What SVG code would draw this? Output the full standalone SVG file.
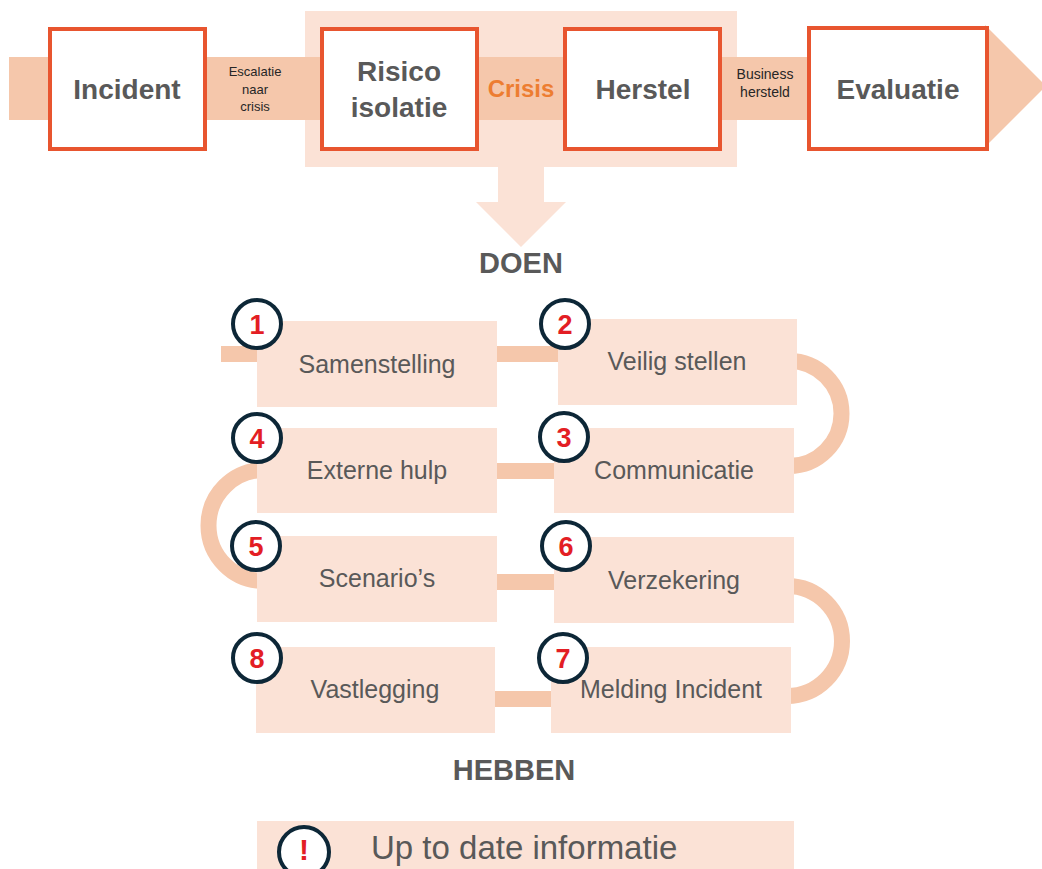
<svg xmlns="http://www.w3.org/2000/svg" width="1042" height="869" viewBox="0 0 1042 869">
<style>
.band{fill:#F5C7AB}
.light{fill:#FBE2D6}
.phase{fill:#FFFFFF;stroke:#E8552F;stroke-width:4}
.ptxt{font-family:"Liberation Sans",Arial,sans-serif;font-weight:bold;font-size:28px;fill:#595959;text-anchor:middle}
.small{font-family:"Liberation Sans",Arial,sans-serif;font-size:13px;fill:#262626;text-anchor:middle}
.small14{font-family:"Liberation Sans",Arial,sans-serif;font-size:14px;fill:#262626;text-anchor:middle}
.head{font-family:"Liberation Sans",Arial,sans-serif;font-weight:bold;font-size:29px;fill:#595959;text-anchor:middle}
.step{fill:#FBE2D6}
.stxt{font-family:"Liberation Sans",Arial,sans-serif;font-size:25px;fill:#595959;text-anchor:middle}
.info{font-family:"Liberation Sans",Arial,sans-serif;font-size:33px;fill:#595959;text-anchor:start}
.num{fill:#FFFFFF;stroke:#0D2737;stroke-width:4}
.ntxt{font-family:"Liberation Sans",Arial,sans-serif;font-weight:bold;font-size:27px;fill:#E31E24;text-anchor:middle}
.excl{font-family:"Liberation Sans",Arial,sans-serif;font-weight:bold;font-size:30px;fill:#E31E24;text-anchor:middle}
.conn{fill:none;stroke:#F5C7AB;stroke-width:16}
</style>
<rect width="1042" height="869" fill="#FFFFFF"/>
<g id="crisis-area">
<rect class="light" x="305" y="11" width="432" height="156"/>
<polygon class="light" points="498,166 544,166 544,202 566,202 521,247 476,202 498,202"/>
</g>
<g id="timeline">
<rect class="band" x="9" y="57" width="977" height="63"/>
<polygon class="band" points="985,25 1046,86 985,147"/>
</g>
<g id="incident">
<rect class="phase" x="50" y="29" width="155" height="120"/>
<text class="ptxt" x="127" y="99">Incident</text>
</g>
<g id="escalatie">
<text class="small" x="255" y="76">Escalatie</text>
<text class="small" x="255" y="94">naar</text>
<text class="small" x="255" y="111">crisis</text>
</g>
<g id="risico">
<rect class="phase" x="322" y="29" width="155" height="120"/>
<text class="ptxt" x="399" y="81">Risico</text>
<text class="ptxt" x="399" y="117">isolatie</text>
</g>
<g id="crisis">
<text x="521" y="97" font-family="Liberation Sans, Arial, sans-serif" font-weight="bold" font-size="24" fill="#ED7D31" text-anchor="middle">Crisis</text>
</g>
<g id="herstel">
<rect class="phase" x="565" y="29" width="155" height="120"/>
<text class="ptxt" x="643" y="99">Herstel</text>
</g>
<g id="business">
<text class="small14" x="765" y="79">Business</text>
<text class="small14" x="765" y="97">hersteld</text>
</g>
<g id="evaluatie">
<rect class="phase" x="809" y="28" width="178" height="121"/>
<text class="ptxt" x="898" y="99">Evaluatie</text>
</g>
<g id="doen">
<text class="head" x="521" y="273">DOEN</text>
</g>
<g id="connectors">
<line class="conn" x1="221" y1="354" x2="262" y2="354"/>
<line class="conn" x1="490" y1="354" x2="565" y2="354"/>
<path class="conn" d="M 789 361 A 52.5 52.5 0 0 1 789 466"/>
<line class="conn" x1="490" y1="471" x2="560" y2="471"/>
<path class="conn" d="M 264 470 A 55.5 55.5 0 0 0 264 581"/>
<line class="conn" x1="490" y1="582" x2="560" y2="582"/>
<path class="conn" d="M 787 586 A 55 55 0 0 1 787 696"/>
<line class="conn" x1="488" y1="699" x2="558" y2="699"/>
</g>
<g id="step1">
<rect class="step" x="257" y="321" width="240" height="86"/>
<text class="stxt" x="377" y="373">Samenstelling</text>
<circle class="num" cx="257" cy="324" r="24"/>
<text class="ntxt" x="257" y="334">1</text>
</g>
<g id="step2">
<rect class="step" x="558" y="319" width="239" height="86"/>
<text class="stxt" x="677" y="370">Veilig stellen</text>
<circle class="num" cx="565" cy="324" r="24"/>
<text class="ntxt" x="565" y="334">2</text>
</g>
<g id="step3">
<rect class="step" x="554" y="428" width="240" height="85"/>
<text class="stxt" x="674" y="479">Communicatie</text>
<circle class="num" cx="564" cy="437" r="24"/>
<text class="ntxt" x="564" y="447">3</text>
</g>
<g id="step4">
<rect class="step" x="257" y="428" width="240" height="85"/>
<text class="stxt" x="377" y="479">Externe hulp</text>
<circle class="num" cx="257" cy="438" r="24"/>
<text class="ntxt" x="257" y="448">4</text>
</g>
<g id="step5">
<rect class="step" x="257" y="536" width="240" height="86"/>
<text class="stxt" x="377" y="587">Scenario’s</text>
<circle class="num" cx="256" cy="546" r="24"/>
<text class="ntxt" x="256" y="556">5</text>
</g>
<g id="step6">
<rect class="step" x="554" y="537" width="240" height="86"/>
<text class="stxt" x="674" y="589">Verzekering</text>
<circle class="num" cx="566" cy="546" r="24"/>
<text class="ntxt" x="566" y="556">6</text>
</g>
<g id="step7">
<rect class="step" x="551" y="647" width="240" height="86"/>
<text class="stxt" x="671" y="698">Melding Incident</text>
<circle class="num" cx="563" cy="658" r="24"/>
<text class="ntxt" x="563" y="668">7</text>
</g>
<g id="step8">
<rect class="step" x="256" y="647" width="239" height="86"/>
<text class="stxt" x="375" y="698">Vastlegging</text>
<circle class="num" cx="257" cy="658" r="24"/>
<text class="ntxt" x="257" y="668">8</text>
</g>
<g id="hebben">
<text class="head" x="514" y="780">HEBBEN</text>
</g>
<g id="info">
<rect class="step" x="257" y="821" width="537" height="48"/>
<circle class="num" cx="304" cy="852" r="25"/>
<text class="excl" x="304" y="860">!</text>
<text class="info" x="371" y="859">Up to date informatie</text>
</g>
</svg>
